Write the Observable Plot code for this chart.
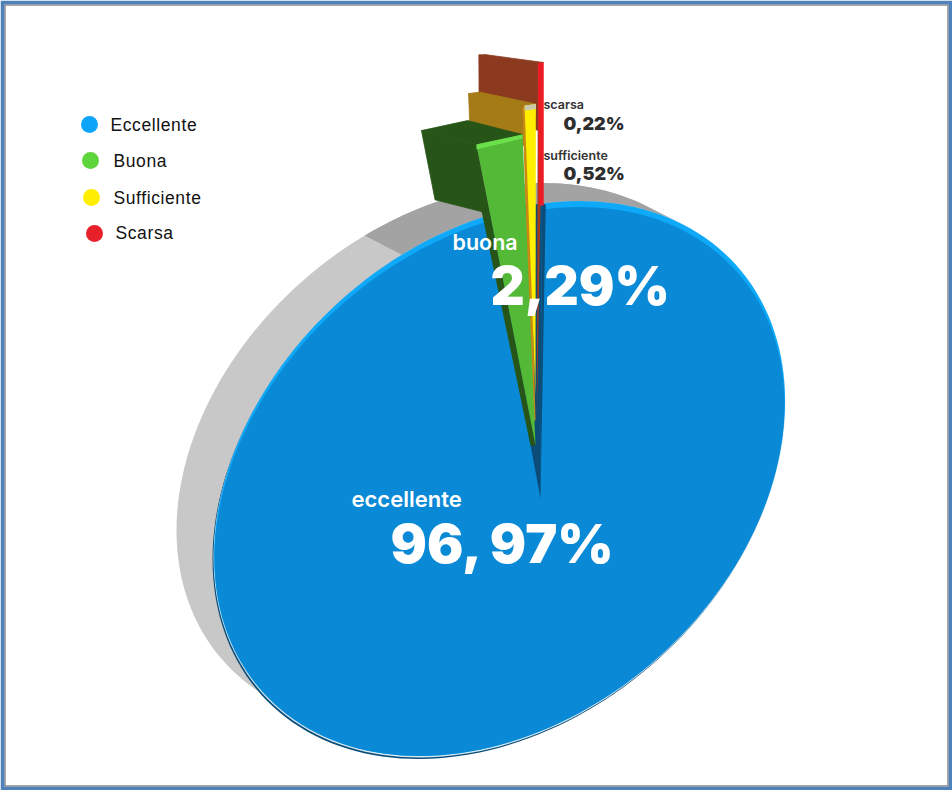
<!DOCTYPE html>
<html>
<head>
<meta charset="utf-8">
<script src="https://cdn.jsdelivr.net/npm/d3@7"></script>
<script src="https://cdn.jsdelivr.net/npm/@observablehq/plot@0.6"></script>
<style>html,body{margin:0;padding:0;background:#fff}svg{display:block}.legend-text text{letter-spacing:.6px}</style>
</head>
<body>
<div id="chart"></div>
<script>
// Data
const categories = ["Scarsa", "Sufficiente", "Buona", "Eccellente"];
const values = [0.22, 0.52, 2.29, 96.97];
const sliceNames = ["scarsa", "sufficiente", "buona", "eccellente"];
const valueLabels = ["0,22%", "0,52%", "2,29%", "96, 97%"];
const legendOrder = ["Eccellente", "Buona", "Sufficiente", "Scarsa"];

// Colours
const legendColors = {Eccellente: "#0ea5f9", Buona: "#5ed63b", Sufficiente: "#ffee00", Scarsa: "#e8202a"};

// Tilted pie geometry
const C = [499, 478], R = [286, 277.5], rho = -0.28, apex = [540, 498], t0 = -81.5;
const sq = Math.sqrt(1 - rho * rho);
const rad = d => d * Math.PI / 180;
const rim = (deg, o = {}) => {
  const cx = o.cx ?? C[0], cy = o.cy ?? C[1], rx = o.rx ?? R[0], ry = o.ry ?? R[1];
  const c = Math.cos(rad(deg)), s = Math.sin(rad(deg));
  return [cx + rx * c, cy + ry * (rho * c + sq * s)];
};
const ring = (o) => d3.range(0, 361, 2).map(a => rim(a, o));
const arc = (a, b, o) => d3.range(0, 61).map(i => rim(a + (b - a) * i / 60, o));
const add = (p, v) => [p[0] + v[0], p[1] + v[1]];
const lerp = (p, q, f) => [p[0] + (q[0] - p[0]) * f, p[1] + (q[1] - p[1]) * f];
const poly = (pts, fill) => Plot.line(pts, {x: d => d[0], y: d => d[1], fill, stroke: "none"});
const wall = (pts, fill) => Plot.line([...pts, pts[0]], {x: d => d[0], y: d => d[1], fill, stroke: fill, strokeWidth: 0.8});

// Slice angles from the values
const total = d3.sum(values);
let acc = 0;
const slices = categories.map((name, i) => {
  const start = t0 - acc; acc += values[i] / total * 360;
  return {name, start, end: t0 - acc};
});

// Explosion of the three small slices
const explode = {
  Scarsa:      {rim: [1, -141], spread: [-1, 1], apex: [-1, -100], depth: [-59, -8],  wall: 0.2, face: "#ed1c24", side: "#8b3a20"},
  Sufficiente: {rim: [-2, -100], spread: [-2, 0], apex: [-5, -103], depth: [-56, -12], wall: 0.14, face: "#ffee00", side: "#a47b16"},
  Buona:       {rim: [-7, -71], spread: [-4, 1], apex: [-5, -53], depth: [-55, -14], wall: 0.23, face: "#55b938", side: "#275518"}
};
const small = slices.slice(0, 3).map(s => {
  const e = explode[s.name];
  const L = add(add(rim(s.end), e.rim), [e.spread[0], 0]), Rr = add(add(rim(s.start), e.rim), [e.spread[1], 0]), A = add(apex, e.apex);
  return {...s, ...e, L, Rr, A};
});
const wallPoly = s => [s.L, add(s.L, s.depth), add(lerp(s.L, s.A, s.wall), s.depth), lerp(s.L, s.A, s.wall)];
const backPoly = s => [s.L, add(s.L, s.depth), add(s.Rr, s.depth), s.Rr];

const back = {cx: C[0] - 37, cy: C[1] - 24, ry: R[1] - 6};
const [red, yellow, green] = small;
const notch = [apex, ...arc(slices[3].start, t0)];

const marks = [
  Plot.frame({stroke: "#8a8a8a", strokeWidth: 1.5, inset: 4.5}),
  Plot.frame({stroke: "#4f81bd", strokeWidth: 3.5, inset: 2}),
  // depth of the disc
  poly(ring(back), "#c8c8c8"),
  poly([...arc(-110, -50, back), ...arc(-50, -110)], "#a3a3a3"),
  // back walls of the exploded slices
  wall(wallPoly(red), red.side), wall(backPoly(red), red.side),
  wall(wallPoly(yellow), yellow.side), wall(backPoly(yellow), yellow.side),
  wall(wallPoly(green), green.side), wall(backPoly(green), green.side),
  // main disc
  poly(ring({cx: C[0] - 1, cy: C[1] + 3}), "#0b4d78"),
  poly(ring({cy: C[1] + 1.5}), "#d5e8f2"),
  poly(ring({rx: R[0] - 0.5}), "#0ea9f8"),
  poly(ring({cy: C[1] + 3, rx: R[0] - 1, ry: R[1] - 3}), "#0a8ad6"),
  poly(notch, "#0b4d78"),
  poly([apex, rim(t0), add(rim(t0), [4, 1])], "#0b4d78"),
  // front of the exploded slices
  poly([lerp(green.L, green.A, 0.22), add(lerp(green.L, green.A, 0.22), [-8, 0]), add(green.A, [-5, 0]), green.A], green.side),
  poly([add(red.L, [0, 0]), add(red.Rr, [-1, 0]), [red.L[0] - 1, 420]], "#a33b1e"),
  poly([red.L, red.Rr, [red.Rr[0], 205], [red.L[0] + 1, 205]], red.face),
  poly([add(yellow.L, [-2, 2]), add(yellow.L, [3, 2]), add(yellow.A, [0, 25]), add(yellow.A, [-4, 25])], "#c98a14"),
  poly([yellow.L, yellow.Rr, yellow.A], yellow.face),
  poly([yellow.L, yellow.Rr, add(yellow.Rr, [0, 5]), add(yellow.L, [0, 5])], "#c9c9b0"),
  poly([green.L, green.Rr, green.A], green.face),
  poly([green.L, green.Rr, add(green.Rr, [0, 4]), add(green.L, [0, 5])], "#6be04a"),
  // labels
  Plot.text([sliceNames[2]], {x: () => 452, y: () => 243, text: d => d, textAnchor: "start", fill: "#fff", fontSize: 21.5, fontFamily: "Inter", fontWeight: 600}),
  Plot.text([valueLabels[2]], {x: () => 490, y: () => 288, text: d => d, textAnchor: "start", fill: "#fff", fontSize: 53, fontFamily: "Inter", fontWeight: 900}),
  Plot.text([sliceNames[3]], {x: () => 351, y: () => 499, text: d => d, textAnchor: "start", fill: "#fff", fontSize: 22, fontFamily: "Inter", fontWeight: 600}),
  Plot.text([valueLabels[3]], {x: () => 390, y: () => 545, text: d => d, textAnchor: "start", fill: "#fff", fontSize: 54, fontFamily: "Inter", fontWeight: 900}),
  Plot.text([sliceNames[0]], {x: () => 543, y: () => 104, text: d => d, textAnchor: "start", fill: "#333", fontSize: 12.5, fontFamily: "Inter", fontWeight: 600}),
  Plot.text([valueLabels[0]], {x: () => 563, y: () => 124, text: d => d, textAnchor: "start", fill: "#2e2e2e", fontSize: 18, fontFamily: "Inter", fontWeight: 900}),
  Plot.text([sliceNames[1]], {x: () => 543, y: () => 155, text: d => d, textAnchor: "start", fill: "#333", fontSize: 12.5, fontFamily: "Inter", fontWeight: 600}),
  Plot.text([valueLabels[1]], {x: () => 563, y: () => 174, text: d => d, textAnchor: "start", fill: "#2e2e2e", fontSize: 18, fontFamily: "Inter", fontWeight: 900}),
  // legend
  Plot.dot(legendOrder, {
    x: d => ({Eccellente: 89, Buona: 90, Sufficiente: 91, Scarsa: 94})[d],
    y: d => ({Eccellente: 124, Buona: 160, Sufficiente: 197, Scarsa: 233})[d],
    r: 8.5, fill: d => legendColors[d], stroke: "none"
  }),
  Plot.text(legendOrder, {
    x: d => ({Eccellente: 110, Buona: 113, Sufficiente: 113, Scarsa: 115})[d],
    y: d => ({Eccellente: 125, Buona: 161, Sufficiente: 198, Scarsa: 233})[d],
    text: d => d, textAnchor: "start", fill: "#111", fontSize: 17.5, fontFamily: "Liberation Sans", className: "legend-text"
  })
];

const plot = Plot.plot({
  width: 952, height: 790,
  margin: 0,
  x: {domain: [0, 952], range: [0, 952], axis: null},
  y: {domain: [0, 790], range: [0, 790], axis: null},
  color: {type: "identity"},
  marks
});
document.getElementById("chart").append(plot);
</script>
</body>
</html>
